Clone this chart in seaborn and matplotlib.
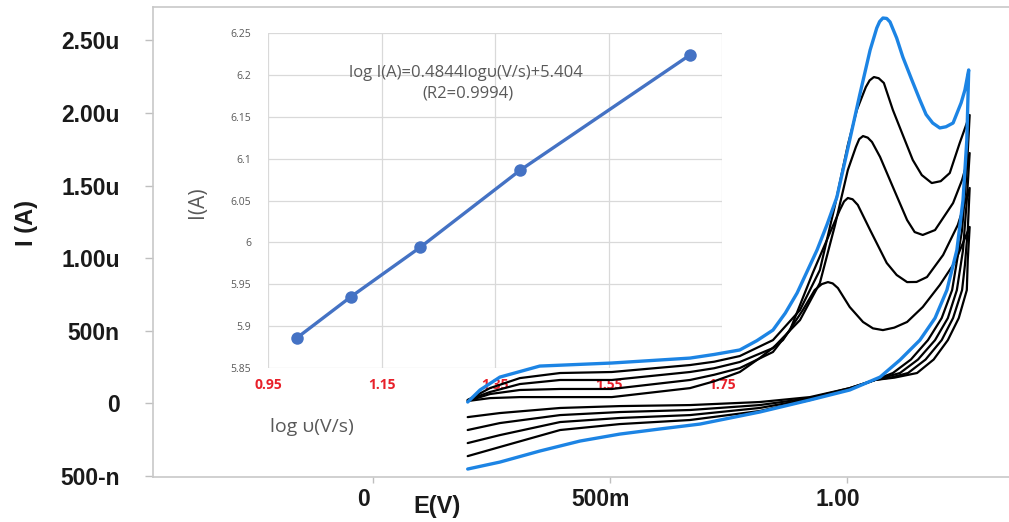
import matplotlib
matplotlib.use("Agg")
import matplotlib.pyplot as plt
import matplotlib.transforms as mtransforms
import seaborn as sns
import numpy as np
import pandas as pd

# cyclic voltammograms, E in V, I in uA (blue = fastest scan, b4 = slowest)
blue_fwd_E = [0.200, 0.226, 0.268, 0.352, 0.504, 0.669, 0.720, 0.774, 0.810, 0.844, 0.870, 0.895,
              0.915, 0.937, 0.958, 0.979, 1.006, 1.027, 1.049, 1.063, 1.069, 1.076, 1.084, 1.091,
              1.105, 1.118, 1.137, 1.154, 1.167, 1.181, 1.196, 1.209, 1.224, 1.241, 1.249, 1.257]
blue_fwd_I = [0.007, 0.090, 0.179, 0.255, 0.276, 0.310, 0.335, 0.366, 0.430, 0.503, 0.620, 0.759,
              0.900, 1.055, 1.230, 1.421, 1.814, 2.124, 2.434, 2.586, 2.630, 2.655, 2.652, 2.628,
              2.517, 2.386, 2.228, 2.090, 1.990, 1.931, 1.897, 1.905, 1.931, 2.070, 2.159, 2.297]
blue_rev_E = [1.257, 1.253, 1.245, 1.232, 1.211, 1.186, 1.154, 1.112, 1.070, 1.006, 0.922, 0.816,
              0.690, 0.605, 0.521, 0.437, 0.352, 0.268, 0.200]
blue_rev_I = [2.297, 1.814, 1.400, 1.055, 0.779, 0.586, 0.434, 0.297, 0.179, 0.090, 0.021, -0.062,
              -0.145, -0.179, -0.214, -0.262, -0.331, -0.407, -0.455]

b1_fwd_E = [0.200, 0.247, 0.310, 0.395, 0.504, 0.669, 0.720, 0.774, 0.844, 0.901, 0.943, 0.975,
            1.002, 1.021, 1.040, 1.048, 1.057, 1.067, 1.078, 1.097, 1.118, 1.139, 1.158, 1.179,
            1.198, 1.217, 1.238, 1.259]
b1_fwd_I = [0.021, 0.103, 0.172, 0.207, 0.214, 0.262, 0.285, 0.324, 0.434, 0.641, 0.917, 1.366,
            1.779, 2.021, 2.179, 2.225, 2.248, 2.240, 2.207, 2.021, 1.848, 1.676, 1.572, 1.517,
            1.530, 1.586, 1.793, 1.986]
b1_rev_E = [1.259, 1.253, 1.243, 1.222, 1.200, 1.171, 1.135, 1.097, 1.059, 1.006, 0.922, 0.816,
            0.669, 0.521, 0.395, 0.268, 0.200]
b1_rev_I = [1.986, 1.607, 1.193, 0.779, 0.586, 0.434, 0.300, 0.207, 0.159, 0.097, 0.021, -0.055,
            -0.117, -0.145, -0.186, -0.303, -0.366]

b2_fwd_E = [0.200, 0.247, 0.310, 0.395, 0.504, 0.669, 0.720, 0.774, 0.844, 0.901, 0.943, 0.975,
            1.002, 1.019, 1.026, 1.034, 1.044, 1.053, 1.070, 1.097, 1.127, 1.143, 1.160, 1.186,
            1.224, 1.243, 1.259]
b2_fwd_I = [0.021, 0.076, 0.131, 0.159, 0.159, 0.214, 0.240, 0.283, 0.379, 0.572, 0.828, 1.228,
            1.607, 1.766, 1.820, 1.841, 1.830, 1.800, 1.697, 1.490, 1.262, 1.179, 1.159, 1.193,
            1.379, 1.538, 1.724]
b2_rev_E = [1.259, 1.253, 1.245, 1.232, 1.213, 1.186, 1.150, 1.112, 1.059, 1.006, 0.922, 0.816,
            0.669, 0.521, 0.395, 0.268, 0.200]
b2_rev_I = [1.724, 1.400, 1.055, 0.779, 0.586, 0.434, 0.300, 0.207, 0.159, 0.097, 0.028, -0.034,
            -0.083, -0.103, -0.131, -0.221, -0.276]

b3_fwd_E = [0.200, 0.247, 0.310, 0.395, 0.504, 0.669, 0.720, 0.774, 0.844, 0.880, 0.928, 0.964,
            0.985, 0.994, 1.002, 1.012, 1.023, 1.049, 1.084, 1.105, 1.127, 1.147, 1.169, 1.203,
            1.234, 1.259]
b3_fwd_I = [0.014, 0.062, 0.090, 0.097, 0.097, 0.159, 0.195, 0.241, 0.352, 0.503, 0.897, 1.172,
            1.331, 1.390, 1.414, 1.405, 1.366, 1.193, 0.966, 0.883, 0.834, 0.835, 0.869, 1.021,
            1.228, 1.483]
b3_rev_E = [1.259, 1.255, 1.249, 1.243, 1.224, 1.200, 1.166, 1.129, 1.095, 1.059, 1.006, 0.922,
            0.816, 0.669, 0.521, 0.395, 0.268, 0.200]
b3_rev_I = [1.483, 1.193, 0.952, 0.779, 0.586, 0.434, 0.300, 0.207, 0.178, 0.159, 0.103, 0.034,
            -0.014, -0.048, -0.062, -0.083, -0.138, -0.186]

b4_fwd_E = [0.200, 0.247, 0.310, 0.395, 0.504, 0.669, 0.720, 0.774, 0.816, 0.865, 0.907, 0.932,
            0.947, 0.960, 0.970, 0.981, 1.006, 1.034, 1.055, 1.076, 1.100, 1.127, 1.160, 1.196,
            1.228, 1.259]
b4_fwd_I = [0.014, 0.034, 0.041, 0.041, 0.041, 0.103, 0.150, 0.214, 0.310, 0.434, 0.641, 0.779,
            0.820, 0.834, 0.825, 0.793, 0.662, 0.559, 0.515, 0.503, 0.520, 0.559, 0.662, 0.814,
            0.972, 1.214]
b4_rev_E = [1.259, 1.255, 1.253, 1.236, 1.213, 1.183, 1.148, 1.100, 1.059, 1.006, 0.922, 0.816,
            0.669, 0.521, 0.395, 0.268, 0.200]
b4_rev_I = [1.214, 0.986, 0.779, 0.586, 0.434, 0.300, 0.207, 0.175, 0.159, 0.103, 0.041, 0.007,
            -0.014, -0.021, -0.034, -0.069, -0.097]

main_yticks = [-0.5, 0, 0.5, 1.0, 1.5, 2.0, 2.5]
main_ylabels = ['500-n', '0', '500n', '1.00u', '1.50u', '2.00u', '2.50u']
main_xticks = [0, 0.5, 1.0]
main_xlabels = ['0', '500m', '1.00']

# inset: log current vs log scan rate
log_v = [1.001, 1.096, 1.218, 1.394, 1.694]
log_I = [5.886, 5.935, 5.994, 6.086, 6.224]
inset_xticks = [0.95, 1.15, 1.35, 1.55, 1.75]
inset_yticks = [5.85, 5.90, 5.95, 6.00, 6.05, 6.10, 6.15, 6.20, 6.25]
inset_ylabels = ['5.85', '5.9', '5.95', '6', '6.05', '6.1', '6.15', '6.2', '6.25']

sns.set_style("white")
plt.rcParams['font.family'] = ['Liberation Sans', 'DejaVu Sans']
inset_font = ['Open Sans', 'DejaVu Sans']

fig = plt.figure(figsize=(10.09, 5.22), dpi=100)
ax = fig.add_axes([0.1516, 0.0862, 0.8484, 0.9004])
ins = fig.add_axes([0.2656, 0.295, 0.45, 0.6418])
ins.set_zorder(1)
ax.set_zorder(2)
ax.patch.set_alpha(0)

# --- inset
inset_grey = '#595959'
ins.set_facecolor('white')
sns.lineplot(x=log_v, y=log_I, ax=ins, color='#4472C4', lw=2.4, marker='o', markersize=9,
             markeredgewidth=0, sort=False, estimator=None)
ins.set_xlim(0.95, 1.75)
ins.set_ylim(5.85, 6.25)
ins.set_xticks(inset_xticks)
ins.set_xticklabels([f'{t:.2f}' for t in inset_xticks], color='#e8202a', fontsize=10,
                    fontweight='bold', family=inset_font)
ins.set_yticks(inset_yticks)
ins.set_yticklabels(inset_ylabels, color=inset_grey, fontsize=7.5, family=inset_font)
ins.tick_params(axis='y', length=0, pad=12)
ins.tick_params(axis='x', length=0, pad=7)
ins.grid(True, color='#d9d9d9', lw=0.9)
for s in ins.spines.values():
    s.set_visible(False)
ins.set_xlabel('')
ins.set_ylabel('')
fig.text(466 / 1009, 1 - 73 / 522, 'log I(A)=0.4844logυ(V/s)+5.404', ha='center', va='center',
         fontsize=12, color=inset_grey, family=inset_font)
fig.text(468 / 1009, 1 - 94 / 522, '(R2=0.9994)', ha='center', va='center',
         fontsize=12, color=inset_grey, family=inset_font)
fig.text(197 / 1009, 1 - 202 / 522, 'I(A)', rotation=90, ha='center', va='center', fontsize=15,
         color=inset_grey, family=inset_font)
fig.text(270 / 1009, 1 - 427 / 522, 'log υ(V/s)', ha='left', va='center', fontsize=14,
         color=inset_grey, family=inset_font)

# --- main CV plot
curves = [
    (b4_fwd_E + b4_rev_E, b4_fwd_I + b4_rev_I, 'black', 1.6),
    (b3_fwd_E + b3_rev_E, b3_fwd_I + b3_rev_I, 'black', 1.6),
    (b2_fwd_E + b2_rev_E, b2_fwd_I + b2_rev_I, 'black', 1.6),
    (b1_fwd_E + b1_rev_E, b1_fwd_I + b1_rev_I, 'black', 1.6),
    (blue_fwd_E + blue_rev_E, blue_fwd_I + blue_rev_I, '#1c84e4', 2.4),
]
for E, I, col, lw in curves:
    df = pd.DataFrame({'E': E, 'I': I})
    sns.lineplot(data=df, x='E', y='I', ax=ax, color=col, lw=lw, sort=False, estimator=None,
                 solid_joinstyle='round', solid_capstyle='round')

ax.set_xlim(-0.464, 1.342)
ax.set_ylim(-0.510, 2.731)
ax.set_yticks(main_yticks)
ax.set_yticklabels(main_ylabels, fontsize=16.5, fontweight='bold', color='#1a1a1a')
ax.set_xticks(main_xticks)
ax.set_xticklabels(main_xlabels, fontsize=16.5, fontweight='bold', color='#1a1a1a')
ax.tick_params(axis='y', length=6, width=1, color='#bfbfbf', pad=18, left=True)
ax.tick_params(axis='x', length=4, width=1, color='#bfbfbf', pad=4, bottom=True)
shift = mtransforms.ScaledTranslation(-0.09, 0, fig.dpi_scale_trans)
for lbl in ax.get_xticklabels():
    lbl.set_transform(lbl.get_transform() + shift)
for side in ['left', 'top', 'bottom']:
    ax.spines[side].set_color('#c8c8c8')
    ax.spines[side].set_linewidth(1.2)
ax.spines['right'].set_visible(False)
ax.set_xlabel('')
ax.set_ylabel('')
fig.text(27 / 1009, 1 - 223 / 522, 'I (A)', rotation=90, ha='center', va='center', fontsize=17,
         fontweight='bold', color='#1a1a1a')
fig.text(437 / 1009, 1 - 506 / 522, 'E(V)', ha='center', va='center', fontsize=17,
         fontweight='bold', color='#1a1a1a')

fig.savefig('out.png', dpi=100)
